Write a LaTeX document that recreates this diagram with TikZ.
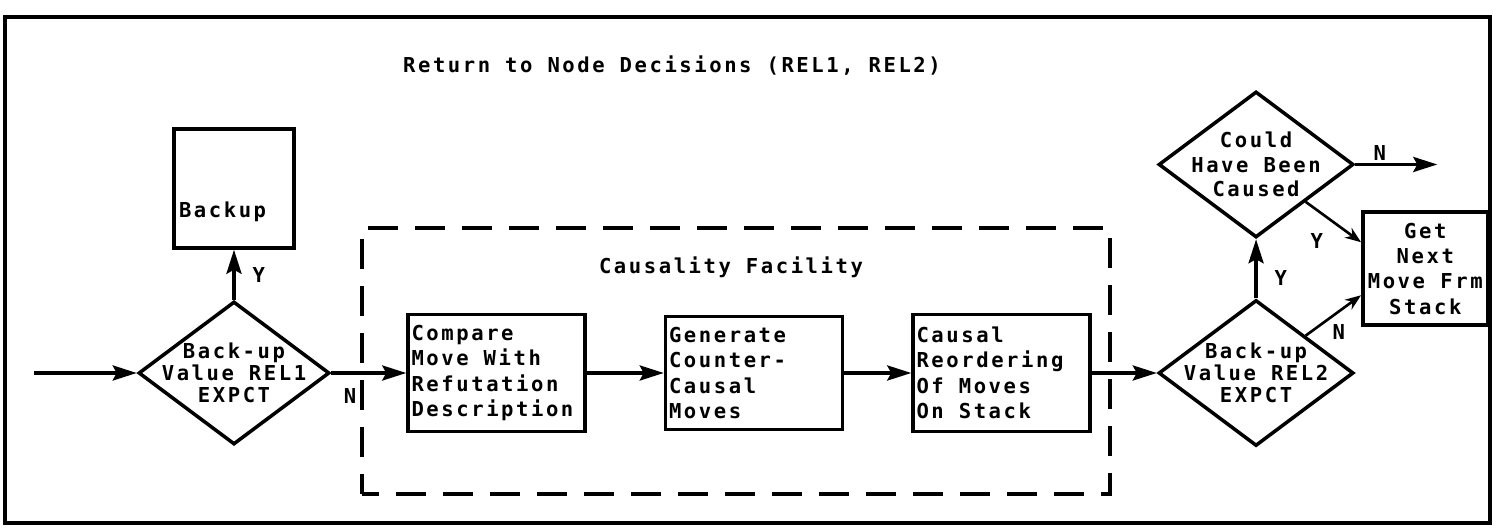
\documentclass[tikz,border=0pt]{standalone}
\usepackage{fontspec}
\setmainfont{DejaVu Sans Mono}[UprightFont=* Bold, LetterSpace=12.5]
\usetikzlibrary{arrows.meta,positioning,shapes,calc}

\begin{document}
\begin{tikzpicture}[
  font=\fontsize{11.7}{14.5}\selectfont,
  box/.style={draw, line width=2pt, minimum width=35.4mm, minimum height=23.4mm, text width=34mm, inner xsep=0.5mm, align=left,
    execute at begin node={\spaceskip=0pt\xspaceskip=0pt}},
  decision/.style={draw, diamond, line width=2pt, minimum width=39mm, minimum height=29.2mm, inner sep=0pt},
  dtext/.style={align=center, font=\fontsize{11.7}{12.5}\selectfont},
  lbl/.style={inner sep=1pt},
  arr/.style={-{Stealth[length=4.8mm, width=3mm, inset=0.8mm]}, line width=2pt},
  oarr/.style={-{Stealth[open, length=3.2mm, width=2.4mm]}, line width=1.5pt},
]
  \useasboundingbox (0,0) rectangle (29.98,10.62);

  % Frame and headings
  \draw[line width=2pt] (0.1,0.16) rectangle (29.8,10.28);
  \node (title) at (13.44,9.30) {Return to Node Decisions (REL1, REL2)};

  % First decision
  \node[decision, minimum width=38.2mm, minimum height=28.6mm,
    label={[dtext]center:{Back-up\\Value REL1\\EXPCT}}] (d1) at (4.68,3.16) {};
  \coordinate[left=20.6mm of d1] (entry);
  \node[box, above=10mm of d1, minimum width=24mm, minimum height=23.8mm, text width=22mm,
    text height=16mm, text depth=4.2mm] (backup) {Backup};

  % Causality facility
  \node[box, right=15mm of d1] (compare) {Compare\\Move With\\Refutation\\Description};
  \node[box, right=15.4mm of compare, minimum height=22.6mm] (generate) {Generate\\Counter-\\Causal\\Moves};
  \node[box, right=13.4mm of generate] (causal) {Causal\\Reordering\\Of Moves\\On Stack};
  \draw[line width=2pt, dash pattern=on 6mm off 3.4mm, dash phase=2mm] (7.24,0.74) rectangle (22.2,6.06);
  \node (facility) at (14.62,5.28) {Causality Facility};

  % Second decision
  \node[decision, right=13mm of causal,
    label={[dtext]center:{Back-up\\Value REL2\\EXPCT}}] (d2) {};
  \node[decision, above=11.8mm of d2,
    label={[dtext, font=\fontsize{11.7}{14}\selectfont]center:{Could\\Have Been\\Caused}}] (could) {};
  \coordinate (mid) at ($(d2.north)!0.5!(could.south)$);
  \node[box, right=21mm of mid, minimum width=25mm, minimum height=22.6mm, text width=24mm,
    align=center] (getnext) {Get\\Next\\Move Frm\\Stack};
  \coordinate[right=16.4mm of could] (exit);

  % Connectors
  \draw[arr] (entry) -- (d1);
  \draw[arr] (d1) -- node[lbl, pos=0.5, right=3mm] {Y} (backup);
  \draw[arr] (d1) -- node[lbl, pos=0.25, below=2.4mm] {N} (compare);
  \draw[arr] (compare) -- (generate);
  \draw[arr] (generate) -- (causal);
  \draw[arr] (causal) -- (d2);
  \draw[arr] (d2) -- node[lbl, pos=0.35, right=3mm] {Y} (could);
  \draw[arr] (could) -- node[lbl, pos=0.3, above] {N} (exit);
  \draw[oarr] (could.south east) -- node[lbl, pos=0.2, below=4mm] {Y} ([yshift=5.3mm]getnext.west);
  \draw[oarr] (d2.north east) -- node[lbl, pos=0.6, below=2mm] {N} ([yshift=-5.3mm]getnext.west);
\end{tikzpicture}
\end{document}
